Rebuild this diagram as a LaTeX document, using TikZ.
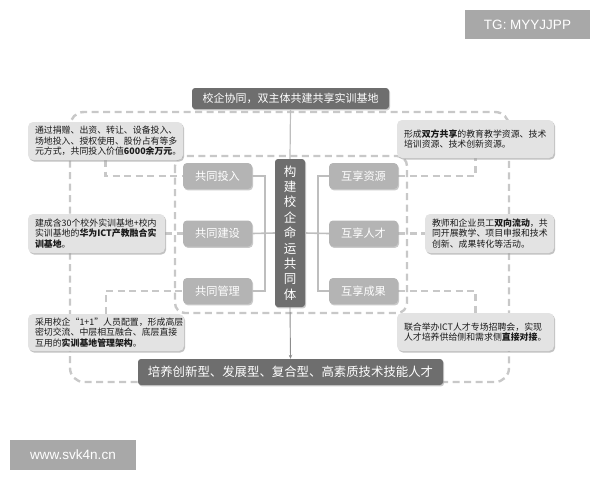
\documentclass[tikz,border=0pt]{standalone}
\usepackage{fontspec}
\setmainfont{Noto Sans CJK SC}
\newfontfamily\wmfont{Liberation Sans}
\usetikzlibrary{shadows,backgrounds,arrows.meta}
\definecolor{darkbox}{HTML}{6E6E6E}
\definecolor{midbox}{HTML}{B4B4B4}
\definecolor{lightbox}{HTML}{E3E3E3}
\definecolor{dashcol}{HTML}{C8C8C8}
\definecolor{linecol}{HTML}{BEBEBE}
\definecolor{wmcol}{HTML}{A8A8A8}
\definecolor{txt}{HTML}{1A1A1A}
\begin{document}
\begin{tikzpicture}[x=1pt,y=-1pt,
  note/.style={fill=lightbox, rounded corners=5pt, text=txt,
    drop shadow={shadow xshift=1.2pt,shadow yshift=-1.6pt,fill=black!40,opacity=0.6},
    font=\fontsize{8.9}{10.4}\selectfont, align=left, inner xsep=7pt, inner ysep=0pt},
  midb/.style={fill=midbox, rounded corners=4pt, text=white,
    drop shadow={shadow xshift=1pt,shadow yshift=-1.4pt,fill=black!35,opacity=0.6},
    font=\fontsize{11.2}{13}\selectfont, minimum width=69pt, minimum height=26pt, inner sep=0pt},
  darkb/.style={fill=darkbox, text=white, rounded corners=3pt,
    drop shadow={shadow xshift=1pt,shadow yshift=-1.4pt,fill=black!35,opacity=0.6},
    inner sep=0pt},
  wmbox/.style={fill=wmcol, text=white, font=\wmfont\fontsize{13.5}{15}\selectfont, inner sep=0pt},
  dloop/.style={draw=dashcol, line width=2.4pt, dash pattern=on 7pt off 4.5pt},
  dcon/.style={draw=dashcol, line width=2.8pt, dash pattern=on 7pt off 4.5pt},
  bar/.style={draw=linecol, line width=1.6pt}
]
\useasboundingbox (0,0) rectangle (600,480);

% main boxes
\node[darkb, minimum width=197pt, minimum height=21pt, font=\fontsize{11}{13}\selectfont] (top) at (290.5,98.5) {校企协同，双主体共建共享实训基地};
\node[darkb, minimum width=30pt, minimum height=148pt, align=center, font=\fontsize{12.5}{15.4}\selectfont] (ctr) at (290,233) {构\\建\\校\\企\\命\\运\\共\\同\\体};
\node[darkb, minimum width=305pt, minimum height=26pt, font=\fontsize{12.4}{14}\selectfont] (bot) at (290.5,372) {培养创新型、发展型、复合型、高素质技术技能人才};

% middle boxes
\node[midb] (jt) at (217.5,176) {共同投入};
\node[midb] (jj) at (217.5,233.5) {共同建设};
\node[midb] (jg) at (217.5,291) {共同管理};
\node[midb] (hz) at (363.5,176) {互享资源};
\node[midb] (hr) at (363.5,233.5) {互享人才};
\node[midb] (hc) at (363.5,291) {互享成果};

% notes
\node[note, text width=141pt, minimum height=38pt] (L1) at (105.5,141) {通过捐赠、出资、转让、设备投入、\\场地投入、授权使用、股份占有等多\\元方式，共同投入价值\textbf{6000余万元}。};
\node[note, text width=123pt, minimum height=39pt] (L2) at (96.5,233.5) {建成含30个校外实训基地+校内\\实训基地的\textbf{华为ICT产教融合实}\\\textbf{训基地}。};
\node[note, text width=142pt, minimum height=37pt] (L3) at (106,332.5) {采用校企“1+1”人员配置，形成高层\\密切交流、中层相互融合、底层直接\\互用的\textbf{实训基地管理架构}。};
\node[note, text width=143pt, minimum height=38pt] (R1) at (475.5,139) {形成\textbf{双方共享}的教育教学资源、技术\\培训资源、技术创新资源。};
\node[note, text width=115pt, minimum height=39pt] (R2) at (489.5,233.5) {教师和企业员工\textbf{双向流动}，共\\同开展教学、项目申报和技术\\创新、成果转化等活动。};
\node[note, text width=143pt, minimum height=38pt] (R3) at (475.5,332) {联合举办ICT人才专场招聘会，实现\\人才培养供给侧和需求侧\textbf{直接对接}。};

% watermarks
\node[wmbox, minimum width=125pt, minimum height=29pt] (tg) at (527.5,24.5) {TG: MYYJJPP};
\node[wmbox, minimum width=126pt, minimum height=30pt] (www) at (73,455) {www.svk4n.cn};

% brackets
\coordinate (lbar) at (265,233.5);
\coordinate (rbar) at (318,233.5);
\draw[bar] (jt.east) -| (lbar) |- (jg.east);
\draw[bar] (jj.east) -- (ctr.west);
\draw[bar] (hz.west) -| (rbar) |- (hc.west);
\draw[bar] (ctr.east) -- (hr.west);
\draw[draw=linecol, line width=1.2pt] (top.south) -- (ctr.north);
\draw[draw=black!45, line width=0.9pt, -{Stealth[length=4pt,width=3.5pt]}] (ctr.south) -- (bot.north);

\begin{pgfonlayer}{background}
\draw[dloop, rounded corners=14pt] (70,112) rectangle (509,382);
\draw[dloop, rounded corners=10pt] (175,156) rectangle (407,313);
\draw[dcon] (L1.south) |- (jt.west);
\draw[dcon] (L2.east) -- (jj.west);
\draw[dcon] (L3.north) |- (jg.west);
\draw[dcon] (hz.east) -| (R1.south);
\draw[dcon] (hr.east) -- (R2.west);
\draw[dcon] (hc.east) -| (R3.north);
\end{pgfonlayer}
\end{tikzpicture}
\end{document}
